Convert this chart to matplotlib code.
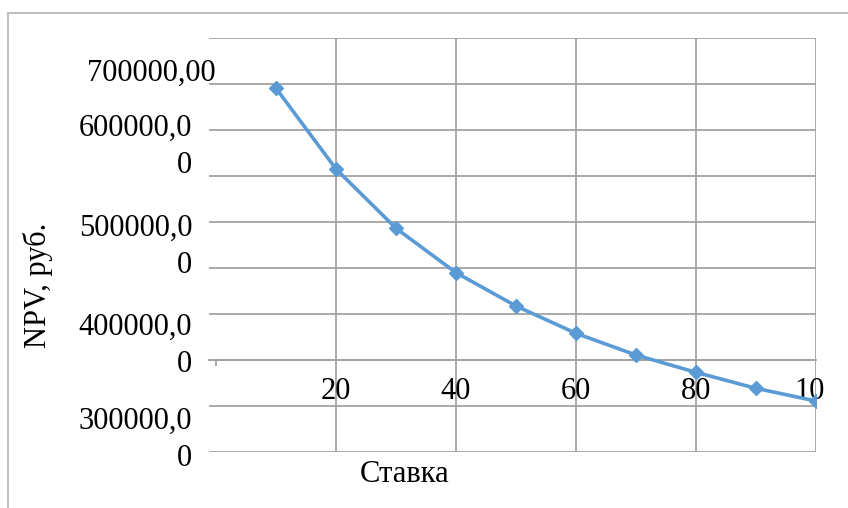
import matplotlib
matplotlib.use('Agg')
import matplotlib.pyplot as plt
from matplotlib.patches import Rectangle
from matplotlib.transforms import ScaledTranslation

# --- dane ---
rate = [10, 20, 30, 40, 50, 60, 70, 80, 90, 100]
npv = [695300, 607600, 543150, 494900, 458700, 429000, 405400, 386600, 369200, 355400]

x_ticks = [20, 40, 60, 80, 100]
x_labels = ['20', '40', '60', '80', '10']
y_ticks = [300000, 400000, 500000, 600000, 700000]
y_minor = [350000, 450000, 550000, 650000, 750000]
y_labels = ['300000,0\n0', '400000,0\n0', '500000,0\n0', '600000,0\n0', '700000,00']

# przesuniecia etykiet osi Y w pikselach (dx, dy)
y_label_shift = [(0, 20), (0, 22), (0, 29), (0, 37), (23, 14)]

plt.rcParams['font.family'] = ['Liberation Serif', 'DejaVu Serif']
grid_col = '#a3a3a3'
fs = 22

fig = plt.figure(figsize=(8.48, 5.08), dpi=100)
ax = fig.add_axes([209 / 848, 56 / 508, 607 / 848, 414 / 508])

# ramka wykresu
fig.add_artist(Rectangle((8 / 848, -0.1), 1.1, 1 - 13 / 508 + 0.1, transform=fig.transFigure,
                         fill=False, edgecolor='#b8b8b8', lw=1.3))

for s in ['top', 'right', 'left']:
    ax.spines[s].set_visible(False)
ax.spines['bottom'].set_position(('data', 400000))
ax.spines['bottom'].set_color(grid_col)
ax.spines['bottom'].set_linewidth(1.3)

ax.plot(rate, npv, color='#5B9BD5', lw=2.6, marker='D', markersize=7, zorder=3)

ax.set_xlim(-1.17, 100)
ax.set_ylim(300000, 750000)

ax.set_xticks(x_ticks)
ax.set_xticklabels(x_labels, fontsize=fs)
ax.set_xticks([0], minor=True)
ax.set_yticks(y_ticks)
ax.set_yticklabels(y_labels, fontsize=fs, linespacing=1.4)
ax.set_yticks(y_minor, minor=True)

ax.xaxis.grid(True, which='major', color=grid_col, lw=1.3)
ax.yaxis.grid(True, which='both', color=grid_col, lw=1.3)
ax.set_axisbelow(True)

ax.tick_params(axis='x', which='major', length=0, pad=12)
ax.tick_params(axis='x', which='minor', length=4, width=1.3, color=grid_col, direction='out')
ax.tick_params(axis='y', which='both', length=0, pad=12)

for lab, (dx, dy) in zip(ax.get_yticklabels(), y_label_shift):
    lab.set_transform(lab.get_transform() + ScaledTranslation(dx / 100, dy / 100, fig.dpi_scale_trans))
xl = ax.get_xticklabels()
xl[-1].set_transform(xl[-1].get_transform() + ScaledTranslation(-6 / 100, 0, fig.dpi_scale_trans))

ax.text(-0.282, 0.403, 'NPV, руб.', transform=ax.transAxes, rotation=90,
        ha='center', va='center', fontsize=fs)
ax.text(0.323, -0.055, 'Ставка', transform=ax.transAxes,
        ha='center', va='center', fontsize=fs)

fig.savefig('out.png', dpi=100)
